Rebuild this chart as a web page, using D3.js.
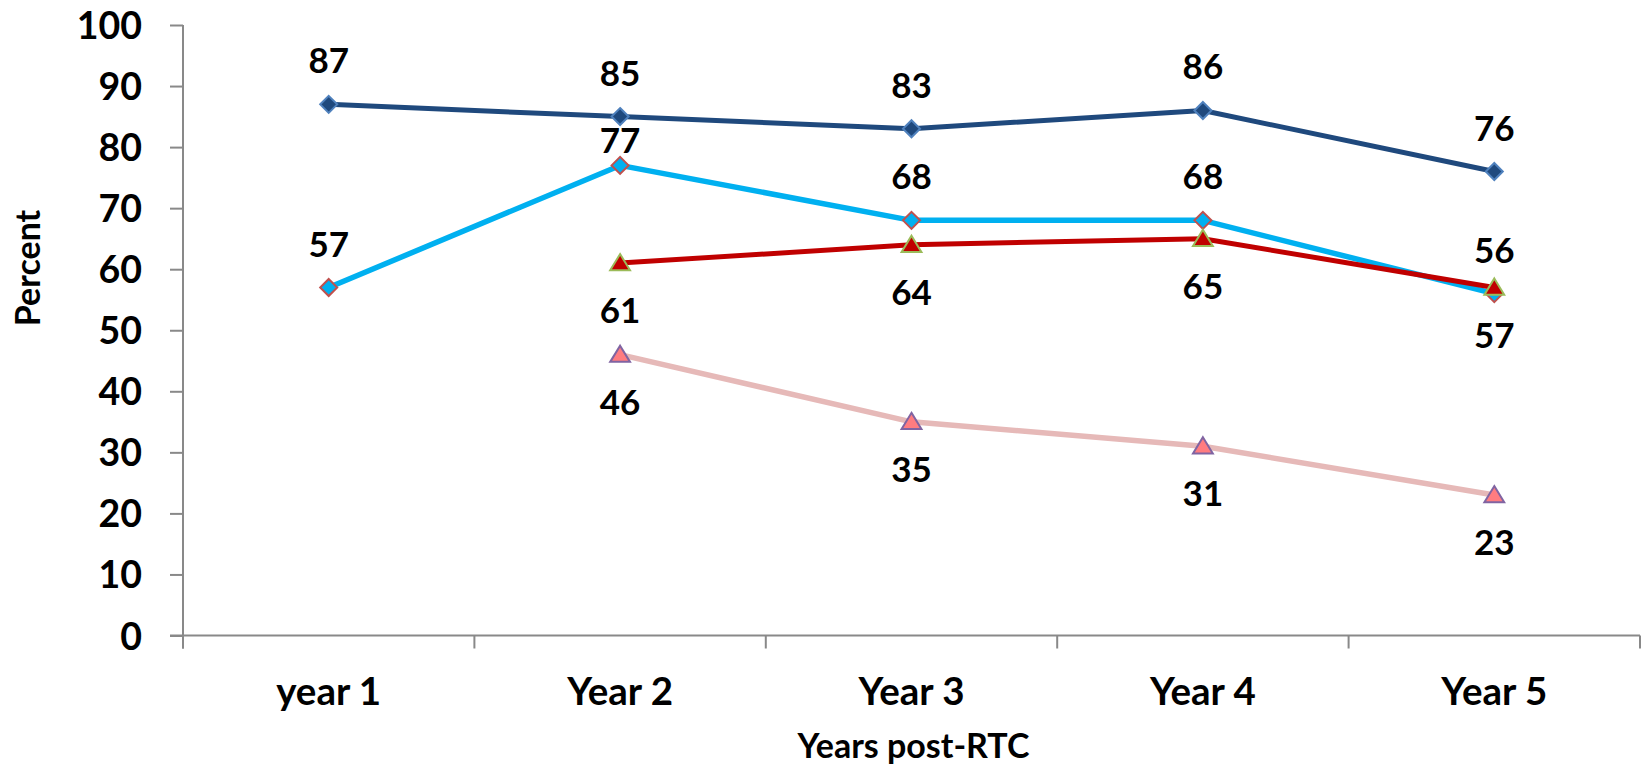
<!DOCTYPE html>
<html>
<head>
<meta charset="utf-8">
<script src="https://cdn.jsdelivr.net/npm/d3@7"></script>
<style>
  html, body { margin: 0; padding: 0; background: #ffffff; }
  svg { display: block; }
  text { font-family: Lato, "Open Sans", sans-serif; font-weight: 700; fill: #000; }
</style>
</head>
<body>
<svg id="chart" width="1647" height="766"></svg>
<script>
// Survey years after the road traffic crash
const categories = ["year 1", "Year 2", "Year 3", "Year 4", "Year 5"];
const yTicks = [0, 10, 20, 30, 40, 50, 60, 70, 80, 90, 100];

// Percent per year for each group (null = not measured that year)
const seriesDarkBlue  = [87, 85, 83, 86, 76];
const seriesLightBlue = [57, 77, 68, 68, 56];
const seriesRed       = [null, 61, 64, 65, 57];
const seriesPink      = [null, 46, 35, 31, 23];

const xTitle = "Years post-RTC";
const yTitle = "Percent";

const series = [
  { values: seriesDarkBlue,  line: "#1F497D", width: 5,   shape: "diamond",  fill: "#1F497D", stroke: "#4F81BD", label: "above" },
  { values: seriesLightBlue, line: "#00B0F0", width: 5.5, shape: "diamond",  fill: "#00B0F0", stroke: "#C0504D", label: "above" },
  { values: seriesRed,       line: "#C00000", width: 5,   shape: "triangle", fill: "#C00000", stroke: "#9BBB59", label: "below" },
  { values: seriesPink,      line: "#E6B9B8", width: 5.5, shape: "triangle", fill: "#FF7C80", stroke: "#8064A2", label: "below" }
];

const svg = d3.select("#chart");
const plotLeft = 183, plotRight = 1640, plotTop = 25, plotBottom = 635.5;

const x = d3.scaleBand().domain(categories).range([plotLeft, plotRight]);
const y = d3.scaleLinear().domain([0, 100]).range([plotBottom, plotTop]);
const cx = c => x(c) + x.bandwidth() / 2;

const axisColor = "#898989";

// Y axis
const yAxis = svg.append("g")
  .attr("transform", `translate(${plotLeft},0)`)
  .call(d3.axisLeft(y).tickValues(yTicks).tickSize(13).tickPadding(28).tickSizeOuter(0));
yAxis.select(".domain").remove();
yAxis.append("line").attr("x1", 0).attr("x2", 0).attr("y1", plotTop).attr("y2", plotBottom + 13)
  .attr("stroke", axisColor).attr("stroke-width", 2);
yAxis.selectAll(".tick line").attr("stroke", axisColor).attr("stroke-width", 2);
yAxis.selectAll(".tick text").style("font-size", "37.5px").style("font-family", "Lato").style("font-weight", 700).attr("fill", "#000").attr("dy", "0.36em");

// X axis with ticks on category boundaries
const xAxis = svg.append("g").attr("transform", `translate(0,${plotBottom})`);
xAxis.append("line").attr("x1", plotLeft - 13).attr("x2", plotRight).attr("y1", 0).attr("y2", 0)
  .attr("stroke", axisColor).attr("stroke-width", 2);
const boundaries = categories.map(c => x(c)).concat([plotRight]);
xAxis.selectAll("line.bt").data(boundaries).join("line").attr("class", "bt")
  .attr("x1", d => d).attr("x2", d => d).attr("y1", 0).attr("y2", 13)
  .attr("stroke", axisColor).attr("stroke-width", 2);
xAxis.selectAll("text.cat").data(categories).join("text").attr("class", "cat")
  .attr("x", d => cx(d)).attr("y", 69).attr("text-anchor", "middle")
  .style("font-size", "38.5px").text(d => d);

// Axis titles
svg.append("text").attr("x", (plotLeft + plotRight) / 2 + 2).attr("y", 758).attr("text-anchor", "middle")
  .style("font-size", "34px").text(xTitle);
svg.append("text").attr("transform", "translate(40,268) rotate(-90)").attr("text-anchor", "middle")
  .style("font-size", "34px").text(yTitle);

const diamond = s => `M0,${-s}L${s},0L0,${s}L${-s},0Z`;
const triangle = s => `M0,${-s}L${s * 1.1},${s * 0.8}L${-s * 1.1},${s * 0.8}Z`;

// Lines first, then markers and value labels per series
series.forEach(s => {
  const pts = categories.map((c, i) => ({ c, v: s.values[i] })).filter(d => d.v != null);
  const line = d3.line().x(d => cx(d.c)).y(d => y(d.v));
  svg.append("path").datum(pts).attr("d", line).attr("fill", "none")
    .attr("stroke", s.line).attr("stroke-width", s.width).attr("stroke-linejoin", "round");
  s.pts = pts;
});

series.forEach(s => {
  svg.append("g").selectAll("path").data(s.pts).join("path")
    .attr("transform", d => `translate(${cx(d.c)},${y(d.v)})`)
    .attr("d", s.shape === "diamond" ? diamond(8.5) : triangle(9))
    .attr("fill", s.fill).attr("stroke", s.stroke).attr("stroke-width", 2);
});

series.forEach((s, si) => {
  svg.append("g").selectAll("text").data(s.pts).join("text")
    .attr("x", d => cx(d.c))
    .attr("y", d => {
      if (s.label === "above") {
        // the Year 2 light-blue label sits closer to its point, under the dark-blue line
        const off = (si === 1 && d.c === "Year 2") ? 12 : 31;
        return y(d.v) - off;
      }
      return y(d.v) + 60;
    })
    .attr("text-anchor", "middle").style("font-size", "35px").text(d => d.v);
});
</script>
</body>
</html>
